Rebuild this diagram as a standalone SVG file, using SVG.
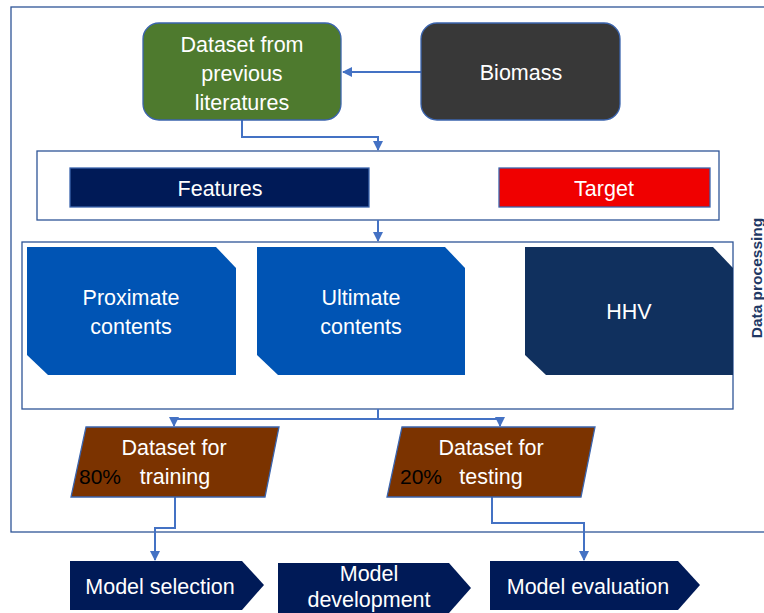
<svg xmlns="http://www.w3.org/2000/svg" width="764" height="613" viewBox="0 0 764 613">
<defs>
<style>
.t{font-family:"Liberation Sans",Arial,sans-serif;font-size:21.5px;fill:#fff;text-anchor:middle}
.k{font-family:"Liberation Sans",Arial,sans-serif;font-size:21px;fill:#000}
.c{fill:none;stroke:#4472C4;stroke-width:2}
.b{stroke:#3B64AD;stroke-width:1.3}
</style>
<marker id="ah" viewBox="0 0 10 10" refX="9" refY="5" markerWidth="5" markerHeight="5" orient="auto">
<path d="M0,0 L10,5 L0,10 z" fill="#4472C4"/>
</marker>
</defs>
<rect width="764" height="613" fill="#fff"/>
<g id="frame">
<rect x="11" y="7" width="770" height="525" fill="none" stroke="#2F5597" stroke-width="1.3"/>
<text x="0" y="0" transform="translate(762,278) rotate(-90)" font-family="'Liberation Sans',Arial,sans-serif" font-size="15.5" font-weight="bold" fill="#1F3864" text-anchor="middle">Data processing</text>
</g>
<g id="container1"><rect x="37" y="151" width="682" height="69" fill="#fff" stroke="#2F5597" stroke-width="1.3"/></g>
<g id="container2"><rect x="22" y="242" width="711" height="167" fill="#fff" stroke="#2F5597" stroke-width="1.3"/></g>
<g id="connectors">
<path class="c" d="M421,72 H343" marker-end="url(#ah)"/>
<path class="c" d="M242,120 V137 H378 V150" marker-end="url(#ah)"/>
<path class="c" d="M378,220 V241" marker-end="url(#ah)"/>
<path class="c" d="M378,409 V419 H174 V426" marker-end="url(#ah)"/>
<path class="c" d="M378,419 H500 V426" marker-end="url(#ah)"/>
<path class="c" d="M175,497 V528 H155 V560" marker-end="url(#ah)"/>
<path class="c" d="M492,497 V523 H584 V560" marker-end="url(#ah)"/>
</g>
<g id="dataset">
<rect class="b" x="143" y="23" width="198" height="97" rx="16" fill="#4E7A2E"/>
<text class="t" x="242" y="52">Dataset from</text>
<text class="t" x="242" y="81">previous</text>
<text class="t" x="242" y="110">literatures</text>
</g>
<g id="biomass">
<rect class="b" x="421" y="23" width="199" height="97" rx="16" fill="#383838"/>
<text class="t" x="521" y="80">Biomass</text>
</g>
<g id="features">
<rect class="b" x="70" y="168" width="299" height="39" fill="#001A57"/>
<text class="t" x="220" y="196">Features</text>
</g>
<g id="target">
<rect class="b" x="499" y="168" width="211" height="39" fill="#F00000"/>
<text class="t" x="604" y="196">Target</text>
</g>
<g id="proximate">
<path d="M27,247 H216 L236,268 V375 H48 L27,355 Z" fill="#0054B4"/>
<text class="t" x="131" y="305">Proximate</text>
<text class="t" x="131" y="334">contents</text>
</g>
<g id="ultimate">
<path d="M257,247 H445 L465,268 V375 H278 L257,355 Z" fill="#0054B4"/>
<text class="t" x="361" y="305">Ultimate</text>
<text class="t" x="361" y="334">contents</text>
</g>
<g id="hhv">
<path d="M525,247 H713 L733,268 V375 H546 L525,355 Z" fill="#10305E"/>
<text class="t" x="629" y="319">HHV</text>
</g>
<g id="training">
<path class="b" d="M86,427 H279 L265,497 H71 Z" fill="#7B3300"/>
<text class="t" x="174" y="455">Dataset for</text>
<text class="k" x="79" y="484">80%</text>
<text class="t" x="175" y="484">training</text>
</g>
<g id="testing">
<path class="b" d="M402,427 H595 L581,497 H387 Z" fill="#7B3300"/>
<text class="t" x="491" y="455">Dataset for</text>
<text class="k" x="400" y="484">20%</text>
<text class="t" x="491" y="484">testing</text>
</g>
<g id="selection">
<path d="M70,561 H242 L264,585 L242,610 H70 Z" fill="#001A57"/>
<text class="t" x="160" y="594">Model selection</text>
</g>
<g id="development">
<path d="M278,563 H449 L471,588 L449,613 H278 Z" fill="#001A57"/>
<text class="t" x="369" y="581">Model</text>
<text class="t" x="369" y="607">development</text>
</g>
<g id="evaluation">
<path d="M490,561 H678 L700,585 L678,610 H490 Z" fill="#001A57"/>
<text class="t" x="588" y="594">Model evaluation</text>
</g>
</svg>
